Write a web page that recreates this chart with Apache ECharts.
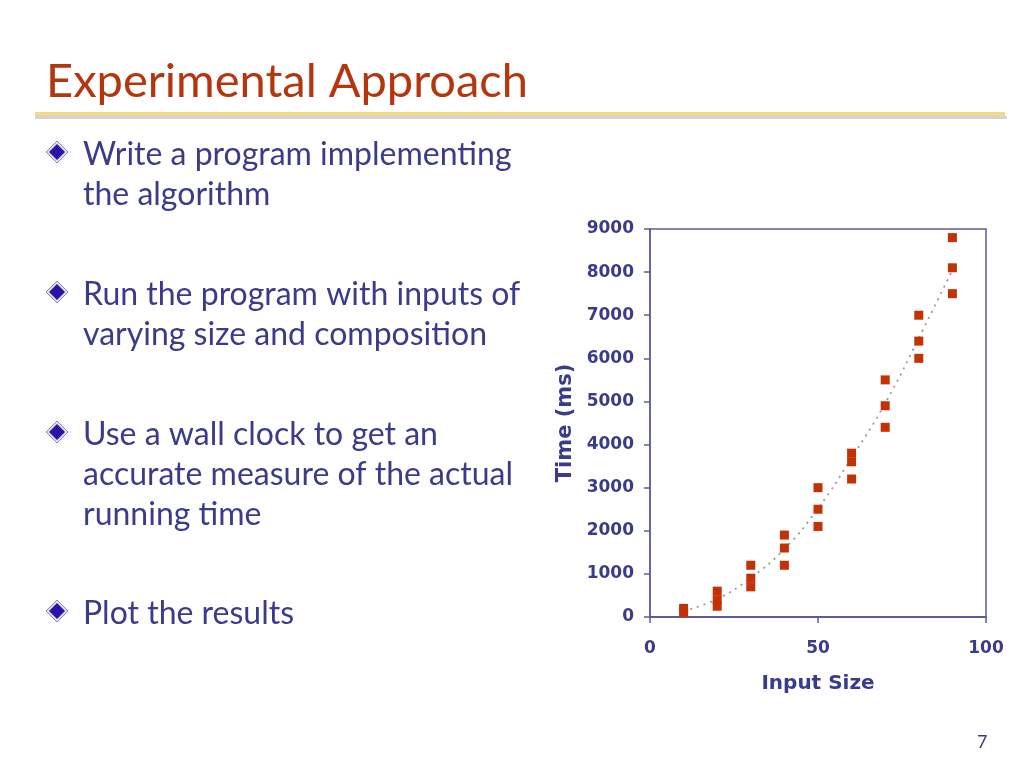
<!DOCTYPE html>
<html>
<head>
<meta charset="utf-8">
<script src="https://cdn.jsdelivr.net/npm/echarts@6/dist/echarts.min.js"></script>
<style>
  html, body { margin: 0; padding: 0; background: #fff; }
  #chart { width: 1024px; height: 768px; }
</style>
</head>
<body>
<div id="chart"></div>
<script>
// measured points: [input size, time ms]
const inputSizes = [10, 10, 20, 20, 20, 30, 30, 30, 40, 40, 40, 50, 50, 50, 60, 60, 60, 70, 70, 70, 80, 80, 80, 90, 90, 90];
const times = [100, 200, 600, 400, 250, 1200, 900, 700, 1900, 1600, 1200, 3000, 2500, 2100, 3800, 3600, 3200, 5500, 4900, 4400, 7000, 6400, 6000, 8800, 8100, 7500];

// trend line
const trendX = [10, 20, 30, 40, 50, 60, 70, 80, 90];
const trendY = [140, 420, 910, 1580, 2520, 3690, 4960, 6470, 8050];

const yTicks = [0, 1000, 2000, 3000, 4000, 5000, 6000, 7000, 8000, 9000];
const xTicks = [0, 50, 100];

const bullets = [
  { y: 152, lines: ["Write a program implementing", "the algorithm"] },
  { y: 292, lines: ["Run the program with inputs of", "varying size and composition"] },
  { y: 432, lines: ["Use a wall clock to get an", "accurate measure of the actual", "running time"] },
  { y: 611, lines: ["Plot the results"] }
];

const textBlue = "#3b3b8c";
const axisBlue = "#5c5c9c";

var myChart = echarts.init(document.getElementById("chart"));

// slide graphics: title, rule, bullets
let graphics = [
  {
    type: "text", left: 46, top: 58,
    style: { text: "Experimental Approach", fill: "#b5360e", font: "47px Lato" }
  },
  { type: "rect", shape: { x: 35, y: 116, width: 972, height: 3 }, style: { fill: "#d4d4d8" } },
  { type: "rect", shape: { x: 35, y: 112, width: 970, height: 4 }, style: { fill: "#eedc8c" } },
  {
    type: "text", left: 977, top: 733,
    style: { text: "7", fill: textBlue, font: "18px Lato" }
  }
];
bullets.forEach((b) => {
  graphics.push({
    type: "polygon",
    shape: { points: [[57, b.y - 11], [68, b.y], [57, b.y + 11], [46, b.y]] },
    style: { fill: "#e4e0f0", stroke: "#8a84b8", lineWidth: 1 }
  });
  graphics.push({
    type: "polygon",
    shape: { points: [[57, b.y - 8], [65, b.y], [57, b.y + 8], [49, b.y]] },
    style: { fill: "#2a14a8" }
  });
  b.lines.forEach((t, i) => {
    graphics.push({
      type: "text", left: 83, top: b.y - 13 + i * 40,
      style: { text: t, fill: textBlue, font: "32px Lato" }
    });
  });
});

const labelStyle = { color: textBlue, fontFamily: "DejaVu Sans", fontWeight: "bold", fontSize: 17 };
const nameStyle = { color: textBlue, fontFamily: "DejaVu Sans", fontWeight: "bold", fontSize: 20 };

myChart.setOption({
  animation: false,
  grid: {
    left: 650, right: 38, top: 229, bottom: 151,
    show: true, borderColor: axisBlue, borderWidth: 1.5, backgroundColor: "#fff"
  },
  xAxis: {
    type: "value", min: xTicks[0], max: xTicks[xTicks.length - 1], interval: 50,
    name: "Input Size", nameLocation: "middle", nameGap: 57,
    nameTextStyle: nameStyle,
    axisLine: { lineStyle: { color: axisBlue, width: 2 } },
    axisTick: { length: 6, lineStyle: { color: axisBlue, width: 1.5 } },
    axisLabel: Object.assign({ margin: 23 }, labelStyle),
    splitLine: { show: false }
  },
  yAxis: {
    type: "value", min: yTicks[0], max: yTicks[yTicks.length - 1], interval: 1000,
    name: "Time (ms)", nameLocation: "middle", nameGap: 74,
    nameTextStyle: Object.assign({}, nameStyle, { fontSize: 21 }),
    axisLine: { show: true, lineStyle: { color: axisBlue, width: 1.5 } },
    axisTick: { show: true, length: 6, lineStyle: { color: axisBlue, width: 1.5 } },
    axisLabel: Object.assign({ margin: 16, formatter: (v) => String(v) }, labelStyle),
    splitLine: { show: false }
  },
  series: [
    {
      type: "line",
      data: trendX.map((x, i) => [x, trendY[i]]),
      smooth: true, symbol: "none",
      lineStyle: { color: "#9a9a9a", width: 1.8, type: [2, 5] },
      z: 1
    },
    {
      type: "scatter",
      data: inputSizes.map((x, i) => [x, times[i]]),
      symbol: "rect", symbolSize: 9,
      itemStyle: { color: "#c23204", opacity: 1 },
      z: 2
    }
  ],
  graphic: graphics
});
</script>
</body>
</html>
